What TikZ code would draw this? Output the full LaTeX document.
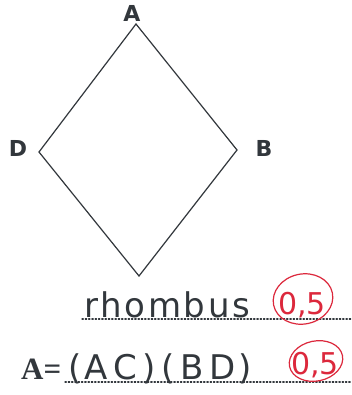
\documentclass[tikz,border=0pt]{standalone}
\usepackage{fontspec}
\setmainfont{Liberation Serif}
\newfontfamily\hand[LetterSpace=8]{DejaVu Sans}
\newfontfamily\handlbl{DejaVu Sans}
\usetikzlibrary{shapes.geometric}
\definecolor{ink}{RGB}{50,55,60}
\definecolor{mark}{RGB}{220,40,60}
\tikzset{
  edge/.style={draw=ink, line width=1.2pt},
  vlabel/.style={font=\handlbl\bfseries\fontsize{22}{22}\selectfont, text=ink, inner sep=0pt},
  fillline/.style={draw=ink, line width=1.3pt, dotted, line cap=round},
  answer/.style={font=\hand\fontsize{34}{34}\selectfont, text=ink, inner sep=0pt, anchor=base west},
  grade/.style={draw=mark, line width=1.2pt, ellipse, inner sep=0pt},
  gradetext/.style={font=\handlbl\fontsize{30}{30}\selectfont, text=mark, inner sep=0pt, anchor=base},
}
\begin{document}
\begin{tikzpicture}[x=1pt,y=-1pt]
\path[use as bounding box, fill=white] (0,0) rectangle (351,395);
\coordinate (vA) at (136,24);
\coordinate (vB) at (237,150);
\coordinate (vC) at (139,276);
\coordinate (vD) at (39,152);
\draw[edge, line join=miter] (vA) -- (vB) -- (vC) -- (vD) -- cycle;
\node[vlabel] (lA) at (132,13) {A};
\node[vlabel] (lB) at (264,148) {B};
\node[vlabel] (lD) at (18,148) {D};
% first answer line
\coordinate (l1s) at (82,319);
\coordinate (l1e) at (351,319);
\draw[fillline] (l1s) -- (l1e);
\node[answer] (t1) at (84,317) {rhombus};
\node[grade, minimum width=60pt, minimum height=50pt, rotate=12] (g1) at (303,299) {};
\node[gradetext] (g1t) at (302,314) {0,5};
% second answer line
\node[font=\fontsize{31}{31}\selectfont\bfseries, text=ink, inner sep=0pt, anchor=base west] (t2a) at (21,379) {A=};
\coordinate (l2s) at (65,382);
\coordinate (l2e) at (351,382);
\draw[fillline] (l2s) -- (l2e);
\node[answer] (t2) at (68,379) {(A\,C\,)\,(\,B\,D)};
\node[grade, minimum width=54pt, minimum height=40pt, rotate=12] (g2) at (316,361) {};
\node[gradetext] (g2t) at (315,374) {0,5};
\end{tikzpicture}
\end{document}
